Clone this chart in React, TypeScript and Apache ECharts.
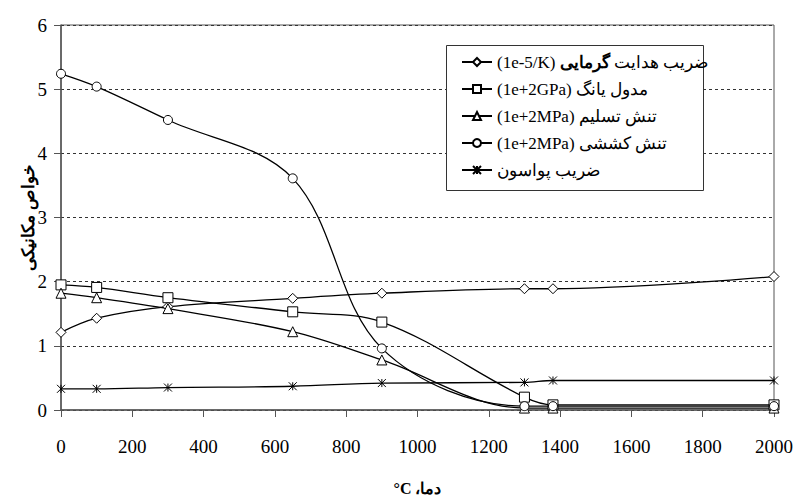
import React, { useEffect, useRef } from 'react';
import * as echarts from 'echarts';

const temperatures = [0, 100, 300, 650, 900, 1300, 1380, 2000];
const thermalConductivity = [1.21, 1.43, 1.61, 1.74, 1.82, 1.89, 1.89, 2.08];
const youngModulus = [1.95, 1.91, 1.75, 1.53, 1.37, 0.2, 0.08, 0.08];
const yieldStress = [1.82, 1.75, 1.58, 1.22, 0.78, 0.03, 0.03, 0.03];
const tensileStress = [5.24, 5.04, 4.52, 3.61, 0.96, 0.06, 0.06, 0.06];
const poissonRatio = [0.33, 0.33, 0.35, 0.37, 0.42, 0.43, 0.46, 0.46];

const seriesNames = [
  'ضریب هدایت گرمایی (1e-5/K)',
  'مدول یانگ (1e+2GPa)',
  'تنش تسلیم (1e+2MPa)',
  'تنش کششی (1e+2MPa)',
  'ضریب پواسون',
];
const legendLabels = [
  '(1e-5/K) {b|گرمایی} ضریب هدایت',
  '(1e+2GPa) مدول یانگ',
  '(1e+2MPa) تنش تسلیم',
  '(1e+2MPa) تنش کششی',
  'ضریب پواسون',
];
const xAxisTitle = '°C ،دما';
const yAxisTitle = 'خواص مکانیکی';

const FONT = 'Times New Roman';
const ASTERISK = 'path://M0 0L10 10M10 0L0 10M5 0L5 10';

export default function App() {
  const ref = useRef<HTMLDivElement>(null);
  useEffect(() => {
    document.body.style.margin = '0';
    const chart = echarts.init(ref.current!, undefined, { renderer: 'svg' });
    const mk = (name: string, values: number[], symbol: string, size: number) => ({
      name,
      type: 'line',
      data: temperatures.map((t, i) => [t, values[i]]),
      smooth: 0.35,
      symbol,
      symbolSize: size,
      showSymbol: true,
      lineStyle: { color: '#000', width: 1.3 },
      itemStyle: { color: '#fff', borderColor: '#000', borderWidth: 1 },
      z: 3,
    });
    chart.setOption({
      animation: false,
      backgroundColor: '#fff',
      textStyle: { fontFamily: FONT },
      grid: {
        left: 61, right: 21, top: 25, bottom: 90,
        show: true, borderColor: '#555', borderWidth: 1, backgroundColor: 'transparent',
      },
      xAxis: {
        type: 'value', min: 0, max: 2000, interval: 200,
        name: xAxisTitle, nameLocation: 'middle', nameGap: 70, nameMoveOverlap: false,
        nameTextStyle: { fontFamily: FONT, fontSize: 16, fontWeight: 'bold', color: '#000' },
        axisLine: { lineStyle: { color: '#555', width: 1.5 } },
        axisTick: { show: true, length: 7, lineStyle: { color: '#555' } },
        axisLabel: {
          margin: 27, fontFamily: FONT, fontSize: 19, color: '#000',
          formatter: (v: number) => String(v),
        },
        splitLine: { show: false },
      },
      yAxis: {
        type: 'value', min: 0, max: 6, interval: 1,
        name: yAxisTitle, nameLocation: 'middle', nameGap: 24, nameRotate: 90, nameMoveOverlap: false,
        nameTextStyle: { fontFamily: FONT, fontSize: 17, fontWeight: 'bold', color: '#000' },
        axisLine: { show: true, lineStyle: { color: '#555', width: 1.5 } },
        axisTick: { show: true, inside: false, length: 7, lineStyle: { color: '#555' } },
        axisLabel: { margin: 14, fontFamily: FONT, fontSize: 19, color: '#000' },
        splitLine: { show: true, lineStyle: { color: '#333', type: [3, 3], width: 1 } },
      },
      graphic: [
        {
          type: 'rect', z: 5,
          shape: { x: 446.5, y: 45.5, width: 257, height: 145 },
          style: { fill: '#fff', stroke: '#333', lineWidth: 1 },
        },
      ],
      legend: {
        z: 10,
        orient: 'vertical',
        left: 461, top: 53,
        padding: 0,
        itemWidth: 30, itemHeight: 10, itemGap: 9,
        data: seriesNames,
        formatter: (name: string) => legendLabels[seriesNames.indexOf(name)],
        textStyle: {
          fontFamily: FONT, fontSize: 17, color: '#000', lineHeight: 18,
          rich: { b: { fontFamily: FONT, fontSize: 17, fontWeight: 'bold', color: '#000', lineHeight: 18 } },
        },
      },
      series: [
        mk(seriesNames[0], thermalConductivity, 'diamond', 10),
        mk(seriesNames[1], youngModulus, 'rect', 10),
        mk(seriesNames[2], yieldStress, 'triangle', 10),
        mk(seriesNames[3], tensileStress, 'circle', 9),
        mk(seriesNames[4], poissonRatio, ASTERISK, 8),
      ],
    });
    return () => chart.dispose();
  }, []);
  return <div ref={ref} style={{ width: 796, height: 501 }} />;
}
